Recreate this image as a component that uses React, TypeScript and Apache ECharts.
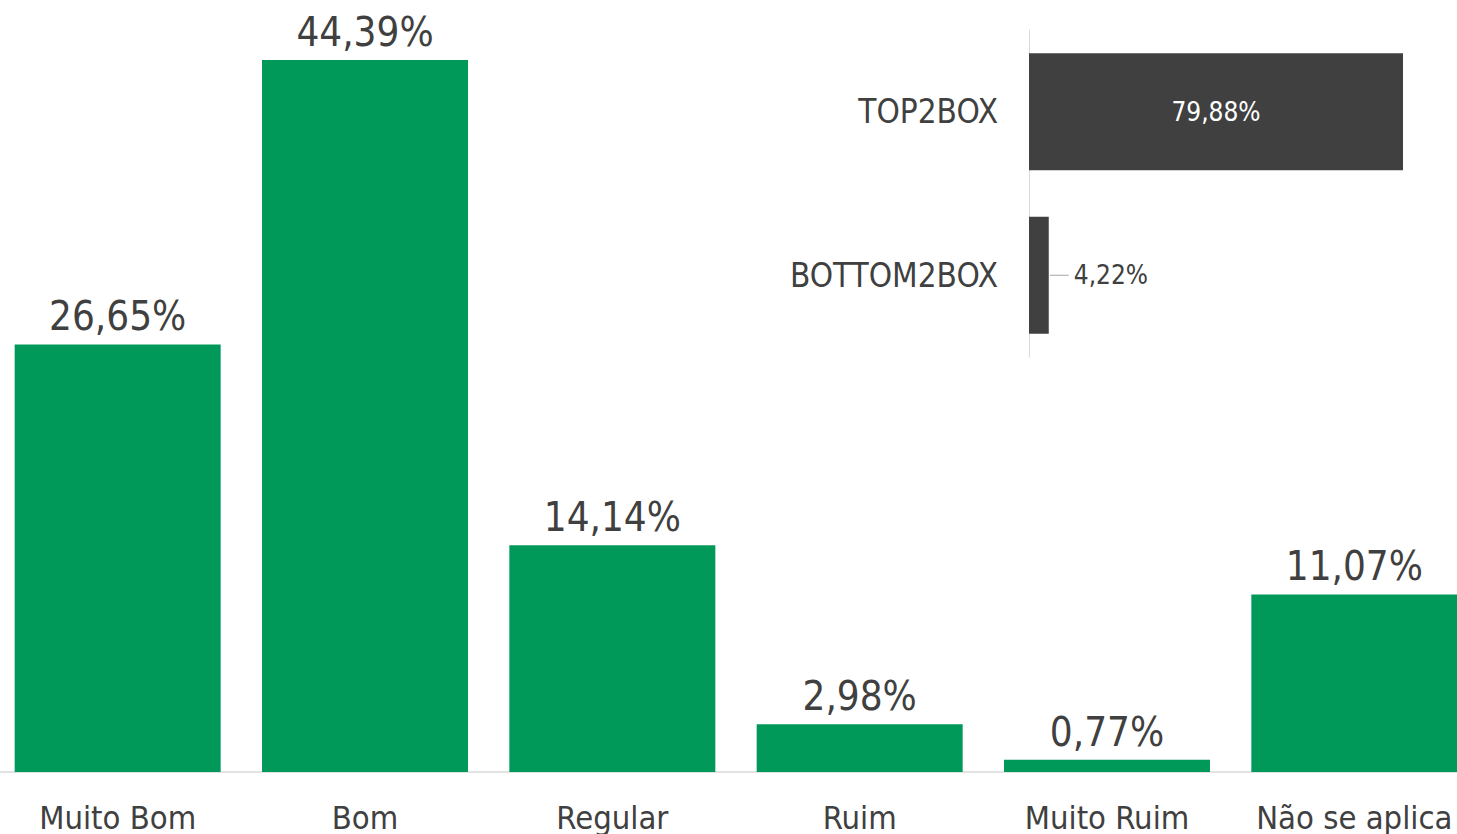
import React, { useEffect, useRef } from "react";
import * as echarts from "echarts";

const categories = ["Muito Bom", "Bom", "Regular", "Ruim", "Muito Ruim", "Não se aplica"];
const values = [26.65, 44.39, 14.14, 2.98, 0.77, 11.07];
const boxCategories = ["TOP2BOX", "BOTTOM2BOX"];
const boxValues = [79.88, 4.22];

const FONT = "'DejaVu Sans Condensed', 'DejaVu Sans', sans-serif";
const TEXT = "#404040";
const fmt = (v: number) => v.toFixed(2).replace(".", ",") + "%";

export default function App() {
  const ref = useRef<HTMLDivElement>(null);
  useEffect(() => {
    if (!ref.current) return;
    const chart = echarts.init(ref.current, undefined, { renderer: "svg" });
    chart.setOption({
      animation: false,
      textStyle: { fontFamily: FONT },
      grid: [
        { left: 0, right: 0, top: 2, bottom: 62 },
        { left: 1035, right: 0, top: 30, bottom: 477 },
      ],
      xAxis: [
        {
          gridIndex: 0,
          type: "category",
          data: categories,
          axisLine: { lineStyle: { color: "#D9D9D9", width: 1.5 } },
          axisTick: { show: false },
          axisLabel: { color: TEXT, fontSize: 32.5, fontFamily: FONT, margin: 29, interval: 0 },
        },
        {
          gridIndex: 1,
          type: "value",
          min: 0,
          max: 95.9,
          show: false,
        },
      ],
      yAxis: [
        { gridIndex: 0, type: "value", min: 0, max: 48, show: false },
        {
          gridIndex: 1,
          type: "category",
          inverse: true,
          data: boxCategories,
          axisLine: { show: true, lineStyle: { color: "#D9D9D9", width: 1 } },
          axisTick: { show: false },
          axisLabel: { color: TEXT, fontSize: 33, fontFamily: FONT, margin: 31 },
        },
      ],
      series: [
        {
          type: "bar",
          xAxisIndex: 0,
          yAxisIndex: 0,
          data: values,
          barWidth: 206,
          itemStyle: { color: "#00995A" },
          label: {
            show: true,
            position: "top",
            distance: 8,
            color: TEXT,
            fontSize: 40,
            fontFamily: FONT,
            formatter: (p: any) => fmt(p.value),
          },
        },
        {
          type: "bar",
          xAxisIndex: 1,
          yAxisIndex: 1,
          barWidth: 117,
          itemStyle: { color: "#404040" },
          data: [
            {
              value: boxValues[0],
              label: {
                show: true,
                position: "inside",
                color: "#FFFFFF",
                fontSize: 26,
                fontFamily: FONT,
                formatter: (p: any) => fmt(p.value),
              },
            },
            {
              value: boxValues[1],
              label: {
                show: true,
                position: "right",
                distance: 1,
                color: TEXT,
                fontSize: 26,
                fontFamily: FONT,
                formatter: (p: any) => "{l|}{v|" + fmt(p.value) + "}",
                rich: {
                  l: { width: 19, height: 1, backgroundColor: "#A6A6A6", verticalAlign: "middle" },
                  v: { fontSize: 26, color: TEXT, fontFamily: FONT, padding: [0, 0, 0, 5] },
                },
              },
            },
          ],
        },
      ],
    });
    return () => chart.dispose();
  }, []);
  return (
    <div style={{ position: "fixed", left: 0, top: 0, width: 1457, height: 834, overflow: "hidden", background: "#fff" }}>
      <div ref={ref} style={{ position: "absolute", left: -6, top: 0, width: 1484, height: 834 }} />
    </div>
  );
}
